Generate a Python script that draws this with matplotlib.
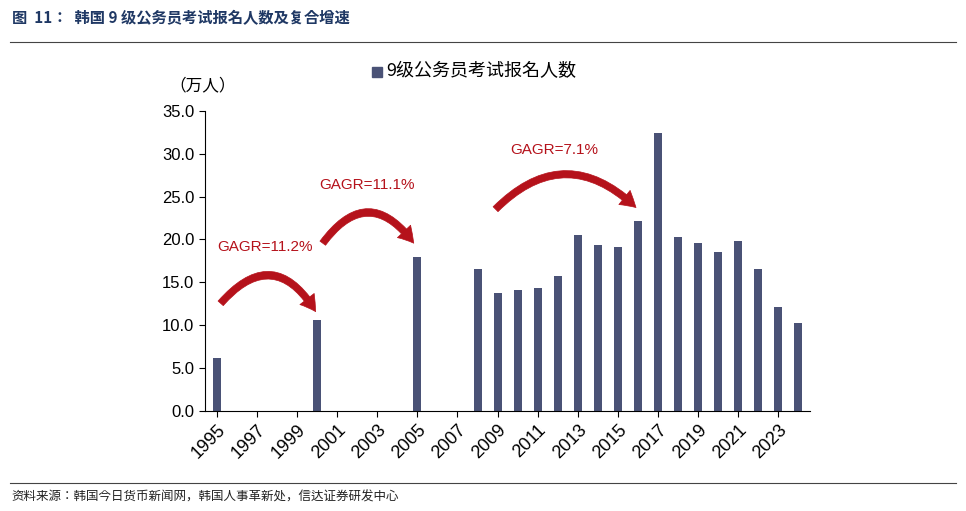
import matplotlib.pyplot as plt
from matplotlib.patches import FancyArrowPatch
from matplotlib.lines import Line2D

cjk = ["Noto Sans CJK SC", "Noto Sans CJK JP", "Noto Sans CJK TC", "Noto Sans CJK KR"]
plt.rcParams["font.family"] = ["Liberation Sans"] + cjk

years = [1995, 2000, 2005, 2008, 2009, 2010, 2011, 2012, 2013, 2014, 2015, 2016,
         2017, 2018, 2019, 2020, 2021, 2022, 2023, 2024]
applicants = [6.2, 10.6, 17.9, 16.5, 13.8, 14.1, 14.3, 15.7, 20.5, 19.4, 19.1, 22.2,
              32.4, 20.3, 19.6, 18.5, 19.8, 16.6, 12.1, 10.3]
tick_years = list(range(1995, 2025, 2))
growth_labels = ["GAGR=11.2%", "GAGR=11.1%", "GAGR=7.1%"]
bar_color = "#4a5276"
red = "#b5121b"

fig = plt.figure(figsize=(9.66, 5.11), dpi=100)
fig.text(0.012, 0.965, "图  11：  韩国 9 级公务员考试报名人数及复合增速", fontsize=11,
         fontweight="bold", color="#1f3864", va="center", family=cjk)
fig.add_artist(Line2D([0.01, 0.99], [0.918, 0.918], color="#444", lw=0.8))
fig.add_artist(Line2D([0.01, 0.99], [0.055, 0.055], color="#444", lw=0.8))
fig.text(0.012, 0.028, "资料来源：韩国今日货币新闻网，韩国人事革新处，信达证券研发中心", fontsize=9,
         style="italic", color="#222", va="center", family=cjk)

ax = fig.add_axes([0.212, 0.196, 0.627, 0.587])
ax.bar(years, applicants, width=0.4, color=bar_color)
ax.set_xlim(1994.4, 2024.6)
ax.set_ylim(0, 35)
ax.set_yticks([i * 5 for i in range(8)])
ax.set_yticklabels([f"{i * 5:.1f}" for i in range(8)], fontsize=12)
ax.set_xticks(tick_years)
ax.set_xticklabels([str(y) for y in tick_years], rotation=45, fontsize=13,
                   ha="right", rotation_mode="anchor")
for s in ["top", "right"]:
    ax.spines[s].set_visible(False)
ax.tick_params(direction="out", length=4)

fig.text(0.175, 0.833, "（万人）", fontsize=12, va="center", family=cjk)
fig.add_artist(Line2D([0.39], [0.86], marker="s", color=bar_color, markersize=7, lw=0))
fig.text(0.4, 0.86, "9级公务员考试报名人数", fontsize=13, va="center", family=cjk)

arrows = [((1995.1, 12.3), (2000.0, 11.3)),
          ((2000.2, 19.3), (2004.9, 19.3)),
          ((2008.8, 23.3), (2016.0, 23.5))]
rads = [-0.7, -0.7, -0.5]
text_pos = [(1997.4, 19.1), (2002.5, 26.4), (2011.8, 30.4)]
for (p0, p1), rad, lbl, tp in zip(arrows, rads, growth_labels, text_pos):
    ax.add_patch(FancyArrowPatch(p0, p1, connectionstyle=f"arc3,rad={rad}",
                                 arrowstyle="simple,head_width=1.3,head_length=1.1,tail_width=0.5",
                                 mutation_scale=10, color=red, lw=0.5))
    ax.text(tp[0], tp[1], lbl, color=red, fontsize=11, ha="center", va="center")

fig.savefig("out.png", dpi=100)
